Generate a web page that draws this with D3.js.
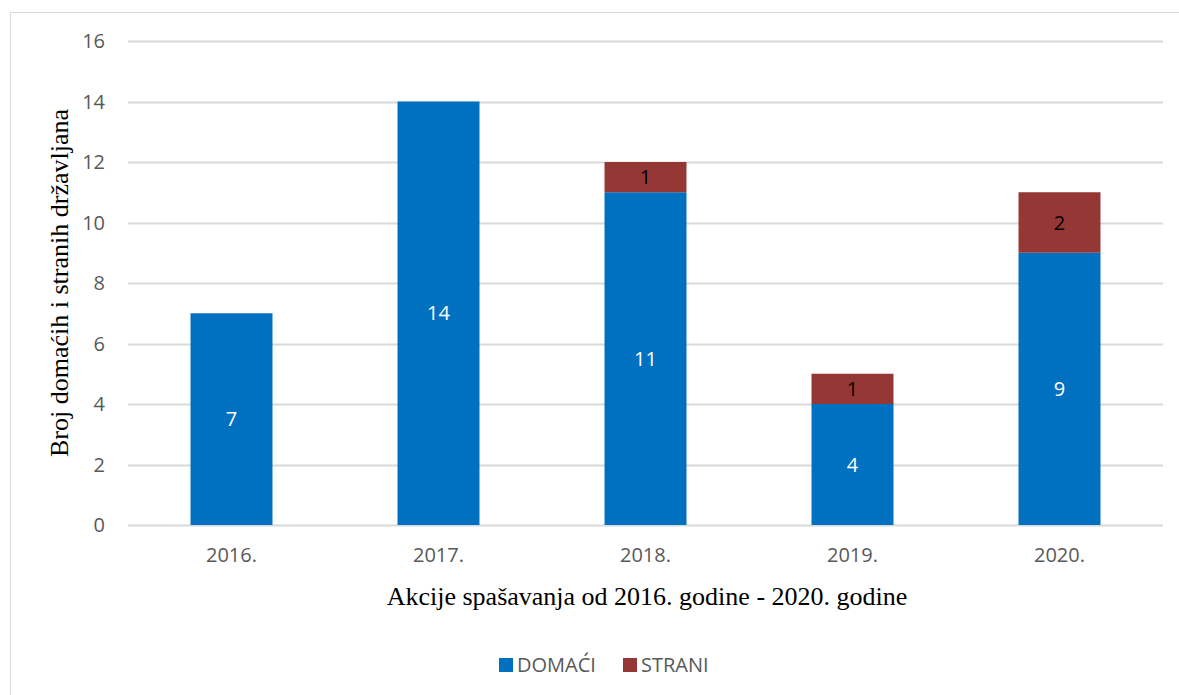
<!DOCTYPE html>
<html>
<head>
<meta charset="utf-8">
<script src="https://cdn.jsdelivr.net/npm/d3@7"></script>
<style>
    body { margin: 0; background: #fff; }
    svg { display: block; }
</style>
</head>
<body>
<div id="chart"></div>
<script>
const years = ['2016.', '2017.', '2018.', '2019.', '2020.'];
const domaci = [7, 14, 11, 4, 9];
const strani = [0, 0, 1, 1, 2];
const seriesNames = ['DOMAĆI', 'STRANI'];
const seriesColors = ['#0070C0', '#953735'];
const labelColors = ['#ffffff', '#000000'];
const yTicks = [0, 2, 4, 6, 8, 10, 12, 14, 16];

const width = 1179, height = 695;
const margin = { left: 128, right: 16, top: 41, bottom: 170 };
const sans = 'Open Sans, sans-serif';
const serif = 'Liberation Serif, Times New Roman, serif';

const svg = d3.select('#chart').append('svg')
    .attr('width', width)
    .attr('height', height);

// chart frame
svg.append('path')
    .attr('d', `M10.5,${height} L10.5,12.5 L${width},12.5`)
    .attr('fill', 'none')
    .attr('stroke', '#d9d9d9')
    .attr('stroke-width', 1);

const x = d3.scaleBand()
    .domain(years)
    .range([margin.left, width - margin.right])
    .paddingInner(0.604)
    .paddingOuter(0.302);

const y = d3.scaleLinear()
    .domain([0, 16])
    .range([height - margin.bottom, margin.top]);

// gridlines
svg.append('g')
    .selectAll('line')
    .data(yTicks)
    .enter().append('line')
    .attr('x1', margin.left)
    .attr('x2', width - margin.right)
    .attr('y1', d => Math.round(y(d)) + 0.5)
    .attr('y2', d => Math.round(y(d)) + 0.5)
    .attr('stroke', '#d9d9d9')
    .attr('stroke-width', 2);

// y tick labels
svg.append('g')
    .selectAll('text')
    .data(yTicks)
    .enter().append('text')
    .attr('x', 105)
    .attr('y', d => y(d))
    .attr('dy', '0.35em')
    .attr('text-anchor', 'end')
    .attr('font-family', sans)
    .attr('font-size', 20)
    .attr('fill', '#595959')
    .text(d => d);

// x tick labels
svg.append('g')
    .selectAll('text')
    .data(years)
    .enter().append('text')
    .attr('x', d => x(d) + x.bandwidth() / 2)
    .attr('y', 562)
    .attr('text-anchor', 'middle')
    .attr('font-family', sans)
    .attr('font-size', 20)
    .attr('fill', '#595959')
    .text(d => d);

// stacked data
const table = years.map((yr, i) => ({ year: yr, DOMAĆI: domaci[i], STRANI: strani[i] }));
const stacked = d3.stack().keys(seriesNames)(table);

const layers = svg.append('g')
    .selectAll('g')
    .data(stacked)
    .enter().append('g')
    .attr('fill', (d, i) => seriesColors[i]);

layers.selectAll('rect')
    .data(d => d.filter(s => s[1] - s[0] > 0))
    .enter().append('rect')
    .attr('x', d => x(d.data.year))
    .attr('width', x.bandwidth())
    .attr('y', d => y(d[1]))
    .attr('height', d => y(d[0]) - y(d[1]));

layers.each(function(layer, li) {
    d3.select(this).selectAll('text')
        .data(layer.filter(s => s[1] - s[0] > 0))
        .enter().append('text')
        .attr('x', d => x(d.data.year) + x.bandwidth() / 2)
        .attr('y', d => (y(d[0]) + y(d[1])) / 2)
        .attr('dy', '0.35em')
        .attr('text-anchor', 'middle')
        .attr('font-family', sans)
        .attr('font-size', 20)
        .attr('fill', labelColors[li])
        .text(d => d[1] - d[0]);
});

// axis titles
svg.append('text')
    .attr('x', 647)
    .attr('y', 605)
    .attr('text-anchor', 'middle')
    .attr('font-family', serif)
    .attr('font-size', 26)
    .attr('fill', '#000')
    .text('Akcije spašavanja od 2016. godine - 2020. godine');

svg.append('text')
    .attr('transform', `translate(68, ${(y(0) + y(16)) / 2}) rotate(-90)`)
    .attr('text-anchor', 'middle')
    .attr('font-family', serif)
    .attr('font-size', 26)
    .attr('fill', '#000')
    .text('Broj domaćih i stranih državljana');

// legend
const legendItems = [
    { name: seriesNames[0], color: seriesColors[0], x: 499 },
    { name: seriesNames[1], color: seriesColors[1], x: 623 }
];
const legend = svg.append('g')
    .selectAll('g')
    .data(legendItems)
    .enter().append('g')
    .attr('transform', d => `translate(${d.x}, 665)`);

legend.append('rect')
    .attr('x', 0)
    .attr('y', -7)
    .attr('width', 14)
    .attr('height', 14)
    .attr('fill', d => d.color);

legend.append('text')
    .attr('x', 18)
    .attr('y', 0)
    .attr('dy', '0.35em')
    .attr('font-family', sans)
    .attr('font-size', 20)
    .attr('fill', '#595959')
    .text(d => d.name);
</script>
</body>
</html>
